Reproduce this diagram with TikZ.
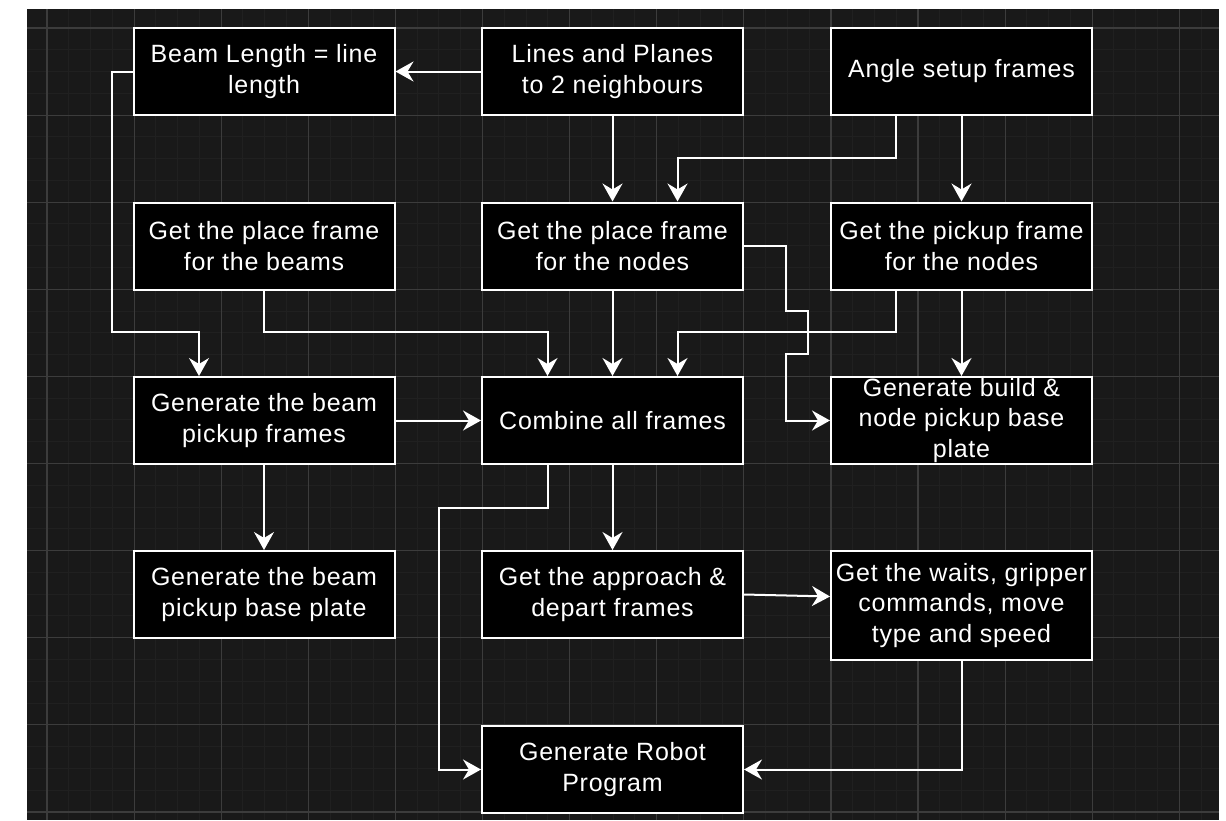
\documentclass[tikz,border=0pt]{standalone}
\usepackage{fontspec}
\setmainfont{Liberation Sans}[LetterSpace=3]
\usetikzlibrary{arrows.meta}

\definecolor{canvas}{HTML}{191919}
\definecolor{gridminor}{HTML}{202020}
\definecolor{gridmajor}{HTML}{3C3C3C}

\tikzset{
  stepbox/.style={draw=white, fill=black, line width=2pt, text=white,
    minimum width=261pt, minimum height=87pt, inner sep=0pt,
    align=center, font=\fontsize{25}{30.5}\selectfont},
  conn/.style={draw=white, line width=2pt,
    -{Stealth[length=18pt, width=20pt, inset=6pt]}},
}

\begin{document}
\begin{tikzpicture}[x=1pt, y=-1pt]
  % page and dark canvas
  \useasboundingbox (0,0) rectangle (1226,820);
  \fill[white] (0,0) rectangle (1226,820);
  \fill[canvas] (27,9) rectangle (1219,820);

  % background grid
  \begin{scope}
    \clip (27,9) rectangle (1219,820);
    \foreach \i in {-1,...,56} {
      \draw[gridminor, line width=1pt] ({47+21.775*\i},9) -- ({47+21.775*\i},820);
    }
    \foreach \i in {-1,...,38} {
      \draw[gridminor, line width=1pt] (27,{28+21.775*\i}) -- (1219,{28+21.775*\i});
    }
    \foreach \i in {0,...,13} {
      \draw[gridmajor, line width=1.2pt] ({47+87.1*\i},9) -- ({47+87.1*\i},820);
    }
    \foreach \i in {0,...,9} {
      \draw[gridmajor, line width=1.2pt] (27,{28+87.1*\i}) -- (1219,{28+87.1*\i});
    }
  \end{scope}

  % process boxes
  \node[stepbox] (bl) at (264,71.5)    {Beam Length = line\\length};
  \node[stepbox] (lp) at (612.5,71.5)  {Lines and Planes\\to 2 neighbours};
  \node[stepbox] (as) at (961.5,71.5)  {Angle setup frames};
  \node[stepbox] (pb) at (264,246)     {Get the place frame\\for the beams};
  \node[stepbox] (pn) at (612.5,246)   {Get the place frame\\for the nodes};
  \node[stepbox] (pu) at (961.5,246)   {Get the pickup frame\\for the nodes};
  \node[stepbox] (gf) at (264,420.5)   {Generate the beam\\pickup frames};
  \node[stepbox] (ca) at (612.5,420.5) {Combine all frames};
  \node[stepbox] (gb) at (961.5,420.5) {Generate build \&\\node pickup base\\plate};
  \node[stepbox] (bp) at (264,594.5)   {Generate the beam\\pickup base plate};
  \node[stepbox] (ad) at (612.5,594.5) {Get the approach \&\\depart frames};
  \node[stepbox, minimum height=109pt] (wt) at (961.5,605.5)
    {Get the waits, gripper\\commands, move\\type and speed};
  \node[stepbox] (rp) at (612.5,769.5) {Generate Robot\\Program};

  % connectors
  \draw[conn] (lp.west) -- (bl.east);
  \draw[conn] (lp.south) -- (pn.north);
  \draw[conn] ([xshift=-66pt]as.south) -- ++(0,42) -| ([xshift=65pt]pn.north);
  \draw[conn] (as.south) -- (pu.north);
  \draw[conn] (bl.west) -- ++(-21,0) |- ([xshift=-65pt,yshift=44pt]gf.north)
    -- ([xshift=-65pt]gf.north);
  \draw[conn] (pb.south) |- ([xshift=-65pt,yshift=44pt]ca.north)
    -- ([xshift=-65pt]ca.north);
  \draw[conn] (pn.south) -- (ca.north);
  \draw[conn] ([xshift=-66pt]pu.south) |- ([xshift=65pt,yshift=44pt]ca.north)
    -- ([xshift=65pt]ca.north);
  \draw[conn] (pu.south) -- (gb.north);
  \draw[conn] (pn.east) -- ++(42,0) -- ++(0,65) -- ++(22,0) -- ++(0,43)
    -- ++(-22,0) |- (gb.west);
  \draw[conn] (gf.east) -- (ca.west);
  \draw[conn] (gf.south) -- (bp.north);
  \draw[conn] (ca.south) -- (ad.north);
  \draw[conn] ([xshift=-65pt]ca.south) -- ++(0,43) -- ++(-109,0) |- (rp.west);
  \draw[conn] (ad.east) -- ([yshift=9pt]wt.west);
  \draw[conn] (wt.south) |- (rp.east);
\end{tikzpicture}
\end{document}
